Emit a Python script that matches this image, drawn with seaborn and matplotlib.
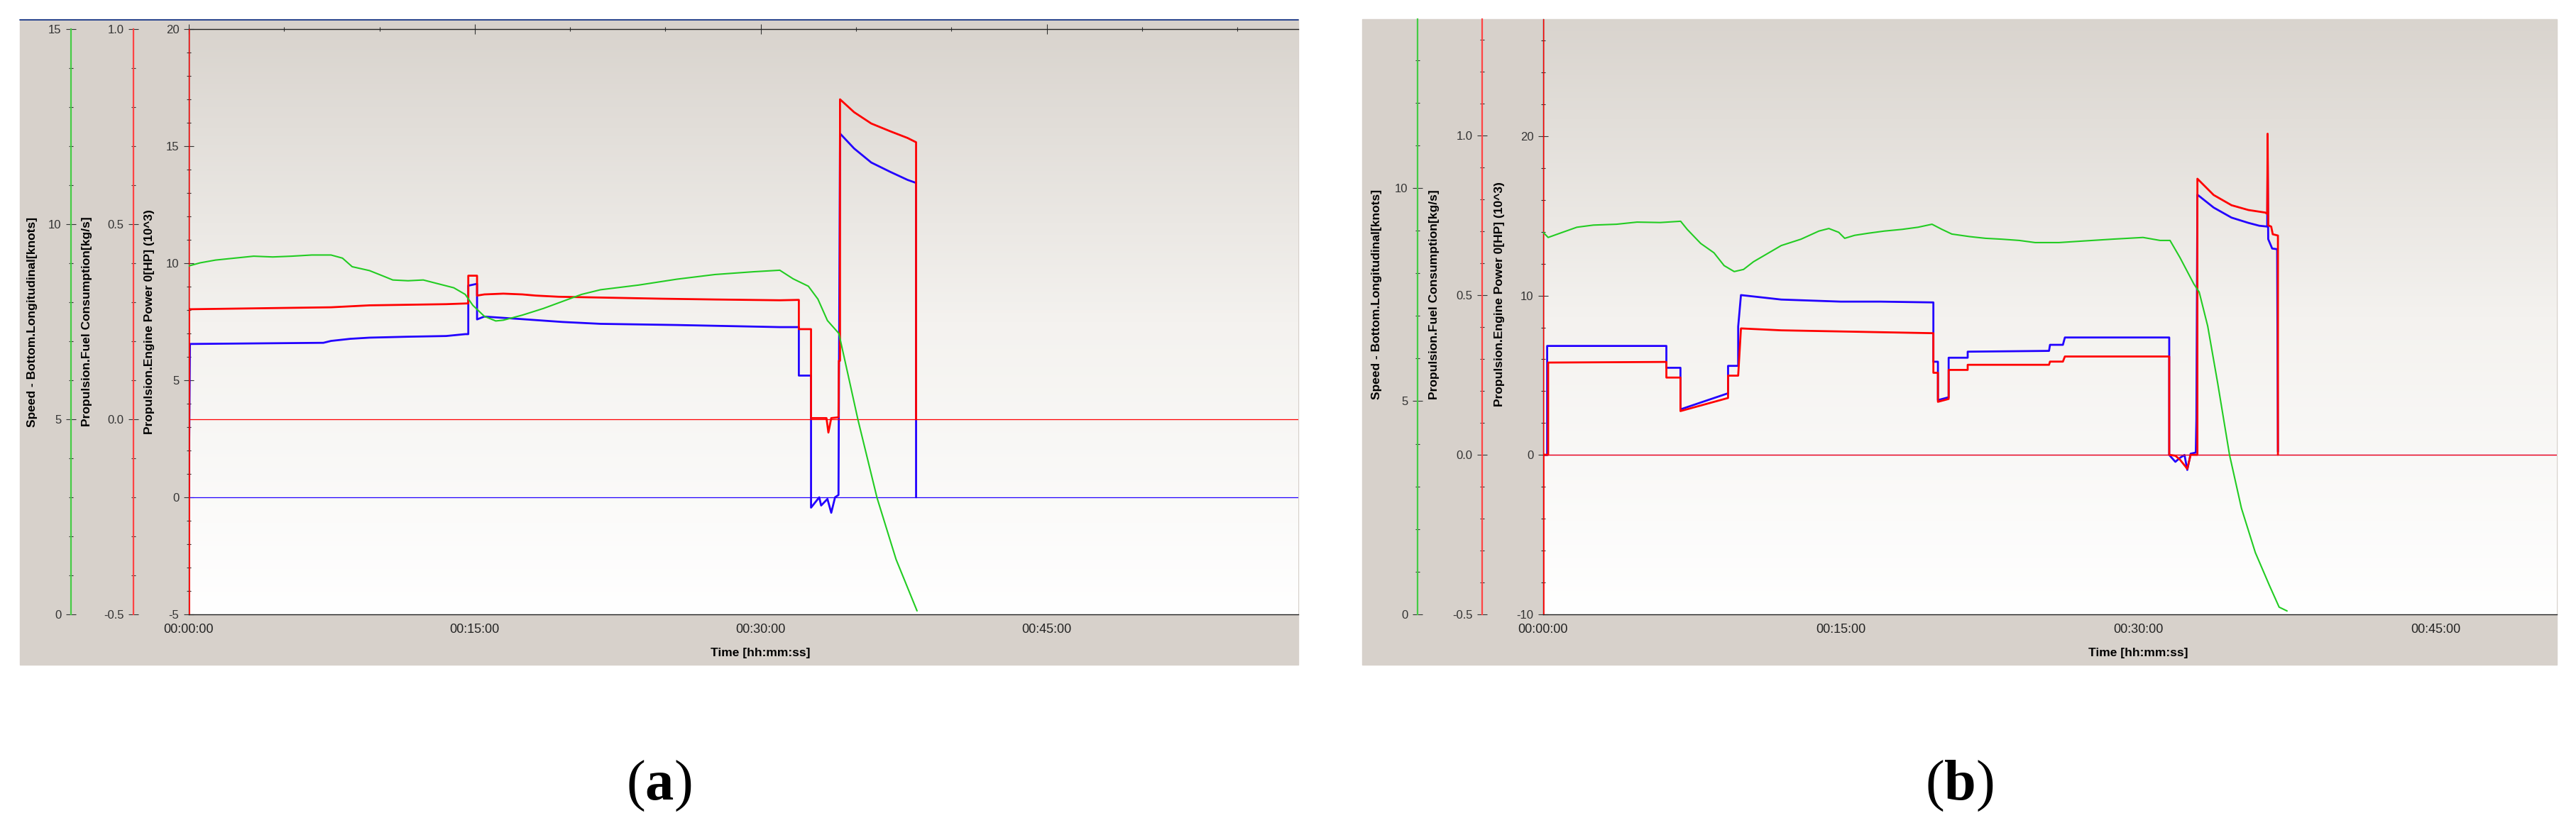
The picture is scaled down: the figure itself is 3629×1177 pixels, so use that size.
import numpy as np
import matplotlib
matplotlib.use('Agg')
import matplotlib.pyplot as plt
import matplotlib.ticker as mticker
from matplotlib.colors import LinearSegmentedColormap
from matplotlib.patches import Rectangle
from matplotlib.lines import Line2D
import seaborn as sns

sns.set_theme(style='white')
plt.rcParams['font.family'] = ['Liberation Sans', 'DejaVu Sans']
plt.rcParams['mathtext.fontset'] = 'custom'
plt.rcParams['mathtext.rm'] = 'Liberation Serif'
plt.rcParams['mathtext.bf'] = 'Liberation Serif:bold'

# ---- panel (a) : time in minutes ----
t_speed_a = [0, 0.6, 1.4, 2.4, 3.4, 4.4, 5.4, 6.45, 7.46, 8.06, 8.57, 9.48, 10.3, 10.7, 11.5,
             12.3, 13.1, 13.9, 14.5, 14.9, 15.5, 16.1, 16.5, 17.5, 18.6, 19.6, 20.6, 21.6,
             23.6, 25.6, 27.6, 29.6, 31.0, 31.7, 32.5, 33.0, 33.5, 34.1, 34.6, 35.1, 36.1,
             37.1, 38.2]
speed_a = [8.93, 9.01, 9.08, 9.13, 9.18, 9.16, 9.18, 9.21, 9.21, 9.13, 8.91, 8.81, 8.65, 8.57,
           8.55, 8.57, 8.47, 8.37, 8.20, 7.92, 7.64, 7.52, 7.54, 7.67, 7.84, 8.02, 8.20, 8.32,
           8.44, 8.59, 8.71, 8.78, 8.82, 8.60, 8.41, 8.08, 7.53, 7.20, 6.10, 4.99, 2.99,
           1.41, 0.09]

t_power_a = [0, 0.06, 7.06, 7.46, 8.47, 9.48, 11.5, 13.5, 14.5, 14.66, 14.66, 15.12, 15.12,
             15.5, 17.5, 19.6, 21.6, 25.6, 31.0, 32.0, 32.0, 32.64, 32.64, 33.07, 33.17,
             33.5, 33.7, 33.9, 34.08, 34.16, 34.9, 35.8, 36.8, 37.7, 38.15, 38.15]
power_a = [0, 6.55, 6.60, 6.68, 6.77, 6.82, 6.86, 6.89, 6.97, 6.97, 9.04, 9.12, 7.60,
           7.72, 7.61, 7.49, 7.41, 7.36, 7.27, 7.27, 5.20, 5.20, -0.44, 0.0, -0.35,
           -0.07, -0.66, 0.0, 0.10, 15.54, 14.90, 14.30, 13.90, 13.56, 13.43, 0.0]

t_fuel_a = [0, 0, 0, 0.06, 7.46, 9.48, 13.5, 14.66, 14.66, 15.12, 15.12, 15.5, 16.5, 17.5,
            18.2, 19.4, 21.6, 24.8, 27.6, 31.0, 32.0, 32.0, 32.64, 32.64, 33.45, 33.55,
            33.7, 34.08, 34.1, 34.16, 34.16, 34.9, 35.8, 36.8, 37.7, 38.15, 38.15]
fuel_a = [1.5, -1.0, 0.282, 0.282, 0.287, 0.292, 0.295, 0.297, 0.368, 0.368, 0.317, 0.320,
          0.322, 0.320, 0.317, 0.314, 0.312, 0.309, 0.307, 0.305, 0.306, 0.231, 0.231, 0.003,
          0.003, -0.034, 0.003, 0.005, 0.150, 0.150, 0.820, 0.787, 0.758, 0.738, 0.721,
          0.710, 0.0]

# ---- panel (b) ----
t_speed_b = [0, 0.25, 0.85, 1.7, 2.53, 3.7, 4.73, 5.9, 6.93, 7.26, 7.94, 8.61, 9.12, 9.63,
             10.1, 10.6, 11.3, 12.0, 13.0, 13.9, 14.4, 14.9, 15.2, 15.7, 16.4, 17.2, 18.1,
             18.9, 19.6, 20.1, 20.6, 21.5, 22.3, 23.1, 24.0, 24.8, 26.0, 27.0, 28.7, 30.24,
             31.1, 31.6, 32.1, 32.8, 33.07, 33.5, 34.0, 34.6, 35.2, 35.9, 36.6, 37.1, 37.5]
speed_b = [8.96, 8.84, 8.94, 9.08, 9.13, 9.15, 9.20, 9.19, 9.22, 9.03, 8.70, 8.48, 8.18,
           8.04, 8.09, 8.27, 8.46, 8.65, 8.80, 8.99, 9.05, 8.96, 8.82, 8.89, 8.94, 8.99,
           9.03, 9.08, 9.15, 9.03, 8.92, 8.86, 8.82, 8.80, 8.77, 8.72, 8.72, 8.75, 8.80,
           8.84, 8.77, 8.77, 8.37, 7.75, 7.56, 6.76, 5.43, 3.74, 2.49, 1.45, 0.69, 0.17, 0.08]

t_power_b = [0, 0.2, 0.2, 6.21, 6.21, 6.92, 6.92, 9.32, 9.32, 9.83, 9.83, 9.97, 12.0, 15.0,
             17.0, 19.67, 19.67, 19.9, 19.9, 20.44, 20.44, 21.4, 21.4, 25.5, 25.55, 26.2,
             26.3, 31.56, 31.56, 31.87, 32.1, 32.33, 32.47, 32.64, 32.9, 32.93, 32.98, 33.8,
             34.7, 35.55, 36.1, 36.5, 36.52, 36.55, 36.75, 37.0, 37.04]
power_b = [0, 0, 6.84, 6.84, 5.47, 5.47, 2.86, 3.87, 5.59, 5.59, 8.05, 10.03, 9.75, 9.62,
           9.62, 9.57, 5.85, 5.85, 3.44, 3.62, 6.10, 6.10, 6.48, 6.53, 6.91, 6.91, 7.37,
           7.37, 0.0, -0.43, -0.18, 0.0, -0.94, 0.08, 0.15, 2.23, 16.33, 15.52, 14.89,
           14.56, 14.38, 14.33, 18.99, 13.54, 12.95, 12.91, 0.2]

t_fuel_b = [0, 0, 0, 0.25, 0.25, 6.21, 6.21, 6.92, 6.92, 9.32, 9.32, 9.83, 9.97, 12.0, 15.4,
            19.67, 19.67, 19.9, 19.9, 20.44, 20.44, 21.4, 21.4, 25.5, 25.55, 26.2, 26.3,
            31.56, 31.56, 31.87, 32.1, 32.47, 32.64, 32.98, 32.98, 33.8, 34.7, 35.55, 36.4,
            36.5, 36.52, 36.55, 36.7, 36.78, 37.04, 37.04]
fuel_b = [1.6, -1.0, 0.0, 0.0, 0.289, 0.291, 0.242, 0.242, 0.137, 0.178, 0.248, 0.248, 0.396,
          0.390, 0.386, 0.381, 0.257, 0.257, 0.166, 0.175, 0.266, 0.266, 0.282, 0.282, 0.292,
          0.292, 0.308, 0.308, 0.0, -0.003, -0.015, -0.044, 0.0, 0.0, 0.865, 0.814, 0.782,
          0.767, 0.759, 0.755, 1.006, 0.719, 0.715, 0.691, 0.687, 0.0]

x_major = [0, 15, 30, 45]
speed_label = 'Speed - Bottom.Longitudinal[knots]'
fuel_label = 'Propulsion.Fuel Consumption[kg/s]'
power_label = 'Propulsion.Engine Power 0[HP] (10^3)'
time_label = 'Time [hh:mm:ss]'
captions = ['a', 'b']

W, H = 3630, 1177
fig = plt.figure(figsize=(W / 100, H / 100), dpi=100)
fig.patch.set_facecolor('white')

GREY = '#d7d1cb'
RED = '#ff0000'
BLUE = '#2200ff'
GREEN = '#22cc22'
grad_cmap = LinearSegmentedColormap.from_list('bg', ['#ffffff', '#f4f2ef', '#d9d4ce'])


def fx(px):
    return px / W


def fy(py):
    return 1 - py / H


def hhmmss(x, pos):
    m = int(round(x))
    return f'{m // 60:02d}:{m % 60:02d}:00'


def panel(box, plot, xmax, lims, steps, spine_x, lab_x, lab_y, top_spine, data, cap_x):
    gl, gt, gr, gb = box
    fig.add_artist(Rectangle((fx(gl), fy(gb)), fx(gr) - fx(gl), fy(gt) - fy(gb),
                             transform=fig.transFigure, color=GREY, zorder=-10))
    left, top, right, bottom = plot
    pos = [fx(left), fy(bottom), fx(right) - fx(left), fy(top) - fy(bottom)]
    bg = fig.add_axes(pos, zorder=-1)
    bg.imshow(np.linspace(0, 1, 256).reshape(-1, 1), cmap=grad_cmap, aspect='auto',
              extent=[0, 1, 0, 1], origin='lower')
    bg.axis('off')

    ax = fig.add_axes(pos)
    ax.patch.set_visible(False)
    ax_f = ax.twinx()
    ax_s = ax.twinx()

    (tp, p), (tf, f), (ts, s) = data
    ax.axhline(0, color=BLUE, lw=0.9, zorder=1)
    ax_f.axhline(0, color=RED, lw=0.9, zorder=1)
    sns.lineplot(x=tp, y=p, ax=ax, color=BLUE, lw=2.0, estimator=None, sort=False)
    sns.lineplot(x=tf, y=f, ax=ax_f, color=RED, lw=2.0, estimator=None, sort=False)
    sns.lineplot(x=ts, y=s, ax=ax_s, color=GREEN, lw=1.5, estimator=None, sort=False)

    ax.set_xlim(0, xmax)
    for a, lim, (mj, mn) in zip([ax, ax_f, ax_s], lims, steps):
        a.set_ylim(*lim)
        a.yaxis.set_major_locator(mticker.MultipleLocator(mj))
        a.yaxis.set_minor_locator(mticker.MultipleLocator(mn))
        a.tick_params(axis='y', which='major', direction='inout', length=9.5, width=0.8,
                      color='#333333', labelsize=12, labelcolor='#333333', pad=5)
        a.tick_params(axis='y', which='minor', direction='inout', length=4, width=0.8,
                      color='#333333')
    ax_f.yaxis.set_major_formatter(mticker.FormatStrFormatter('%.1f'))
    ax.yaxis.set_major_formatter(mticker.FormatStrFormatter('%d'))
    ax_s.yaxis.set_major_formatter(mticker.FormatStrFormatter('%d'))

    ax.xaxis.set_major_locator(mticker.FixedLocator(x_major))
    ax.xaxis.set_minor_locator(mticker.MultipleLocator(5))
    ax.xaxis.set_major_formatter(mticker.FuncFormatter(hhmmss))
    ax.tick_params(axis='x', which='major', direction='inout', length=10, width=0.8,
                   color='#333333', labelsize=13, labelcolor='#222222', pad=4, top=top_spine)
    ax.tick_params(axis='x', which='minor', direction='inout', length=4.5, width=0.8,
                   color='#333333', top=top_spine)

    for sp in ['left', 'bottom', 'top']:
        ax.spines[sp].set_color('#222222')
        ax.spines[sp].set_linewidth(1.0)
    ax.spines['right'].set_visible(False)
    ax.spines['top'].set_visible(top_spine)

    for tw, xo, col in [(ax_f, spine_x[0], '#ff4444'), (ax_s, spine_x[1], '#44cc44')]:
        tw.yaxis.tick_left()
        tw.yaxis.set_label_position('left')
        for sp in ['right', 'top', 'bottom']:
            tw.spines[sp].set_visible(False)
        tw.spines['left'].set_visible(True)
        tw.spines['left'].set_position(('axes', xo))
        tw.spines['left'].set_color(col)
        tw.spines['left'].set_linewidth(1.6)

    for a, lab, lx in zip([ax, ax_f, ax_s], [power_label, fuel_label, speed_label], lab_x):
        a.set_ylabel(lab, fontsize=12.5, fontweight='bold', color='black')
        a.yaxis.set_label_coords(lx, lab_y)
        a.yaxis.label.set_verticalalignment('center')

    ax.set_xlabel(time_label, fontsize=12.5, fontweight='bold', color='black')
    ax.xaxis.set_label_coords(30 / xmax, -(921 - bottom) / (bottom - top))
    ax.xaxis.label.set_verticalalignment('center')
    return ax


panel((28, 27, 1829, 937), (266, 41, 1829, 866), 58.2,
      [(-5, 20), (-0.5, 1.0), (0, 15)], [(5, 1), (0.5, 0.1), (5, 1)],
      (-0.0499, -0.1062), (-0.0358, -0.0915, -0.1408), 0.5, True,
      [(t_power_a, power_a), (t_fuel_a, fuel_a), (t_speed_a, speed_a)], 928)
fig.add_artist(Line2D([fx(28), fx(1829)], [fy(27.5), fy(27.5)], transform=fig.transFigure,
                      color='#1a3a8a', lw=1.3))

panel((1919, 27, 3602, 937), (2174, 27, 3602, 866), 51.1,
      [(-10, 27.34), (-0.5, 1.365), (0, 13.96)], [(10, 2), (0.5, 0.1), (5, 1)],
      (-0.0602, -0.1239), (-0.0434, -0.1078, -0.1639), 0.5375, False,
      [(t_power_b, power_b), (t_fuel_b, fuel_b), (t_speed_b, speed_b)], 2760)

for cx, c in zip([928, 2760], captions):
    fig.text(fx(cx), fy(1108), '($\\mathbf{' + c + '}$)', ha='center', va='center',
             fontsize=58, family='Liberation Serif', color='black')

fig.savefig('out.png', dpi=100, facecolor='white')
